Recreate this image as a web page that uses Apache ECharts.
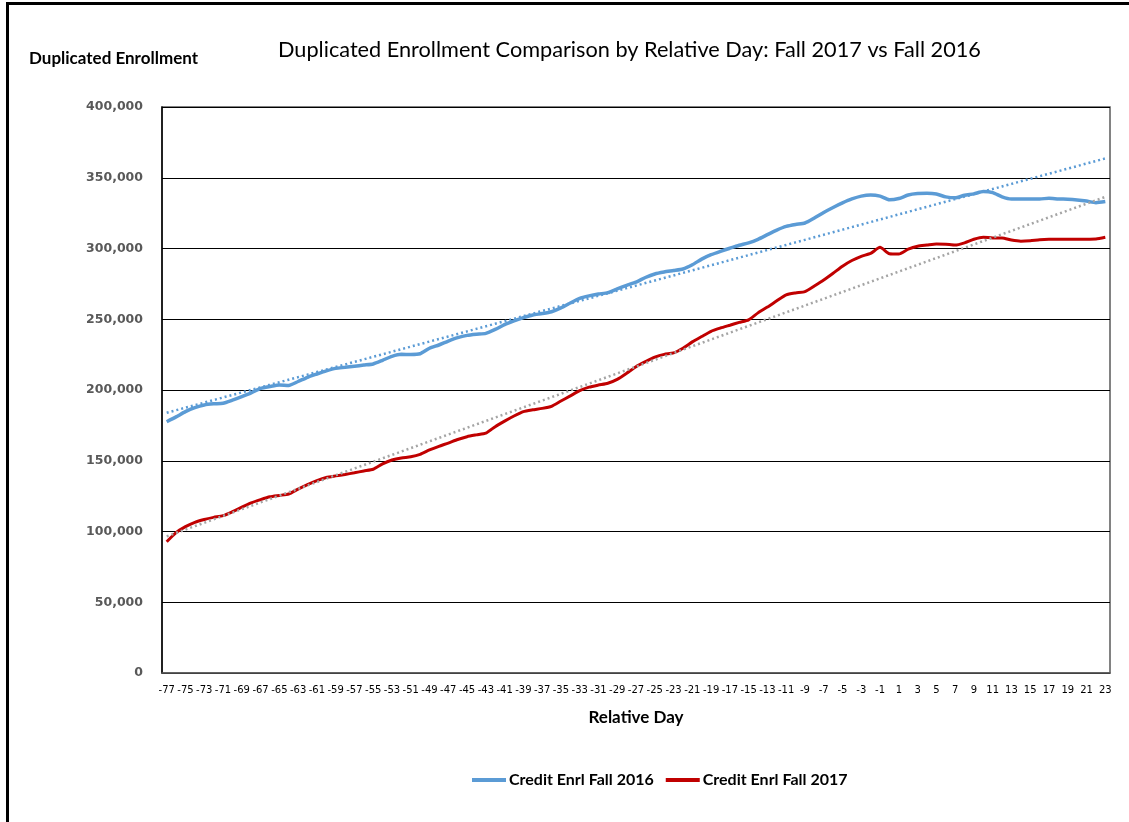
<!DOCTYPE html>
<html>
<head>
<meta charset="utf-8">
<script src="https://cdn.jsdelivr.net/npm/echarts@6/dist/echarts.min.js"></script>
<style>
html,body{margin:0;padding:0;background:#fff;}
#chart{width:1129px;height:822px;}
</style>
</head>
<body>
<div id="chart"></div>
<script>
// Relative days -77 .. 23 (labels shown every other day)
const days = [];
for (let d = -77; d <= 23; d++) days.push(String(d));

// Credit Enrl Fall 2016 (thousands)
const fall2016K = [
 177.6,181,184.7,187.5,189.4,190.2,190.6,192.8,195.3,198,
 201.2,202.5,203.5,203.2,206,209,211.3,213.5,215.3,216,
 216.8,217.6,218.4,221,223.8,225.2,225.1,225.6,229.5,231.8,
 234.6,237,238.6,239.4,240,242.8,246.2,248.8,251.1,253,
 254,255.3,258,261.5,264.8,266.5,267.8,268.8,271.5,274,
 276.2,279.5,282,283.4,284.4,285.5,288.5,292.5,295.6,298,
 300.2,302.3,304,306.5,309.8,313,315.6,317,318,321.5,
 325.5,329,332.2,335,337,337.8,337,334.4,335.3,337.8,
 338.8,339,338.5,336.5,335.8,337.6,338.6,340.2,339.5,336.5,
 335,335,335,335,335.5,335,334.8,334.3,333.5,332.4,
 333.2
];

// Credit Enrl Fall 2017 (thousands)
const fall2017K = [
 92.8,99.2,103.4,106.5,108.5,110,111.2,114,117.2,120.2,
 122.5,124.5,125.5,126.5,130,133.2,136,138.2,139.3,140.3,
 141.5,142.8,144,147.8,150.5,152,152.8,154.5,157.6,160.2,
 162.5,165,167,168.3,169.5,174.1,178,181.6,184.7,186,
 187,188.5,192.2,195.8,199.5,202,203.5,204.8,207.5,211.8,
 216.5,220,223.2,225.2,226.2,229.5,234,237.8,241.5,243.8,
 245.8,247.8,249.6,254.5,258.6,263,267.2,268.6,269.5,273.5,
 277.7,282.5,287.5,291.5,294.5,296.5,300.8,296.3,296.1,299.5,
 301.6,302.4,303.2,303,302.4,304,306.5,307.9,307.5,307.5,
 306,305.2,305.5,306.2,306.5,306.5,306.5,306.6,306.6,306.7,
 307.9
];

const fall2016 = fall2016K.map(v => Math.round(v * 1000));
const fall2017 = fall2017K.map(v => Math.round(v * 1000));

// Linear trendline (least squares over category position), as in the original chart
function linearTrend(vals) {
  const n = vals.length;
  let sx = 0, sy = 0, sxx = 0, sxy = 0;
  vals.forEach((y, i) => { const x = i + 1; sx += x; sy += y; sxx += x * x; sxy += x * y; });
  const b = (n * sxy - sx * sy) / (n * sxx - sx * sx);
  const a = (sy - b * sx) / n;
  return vals.map((_, i) => a + b * (i + 1));
}

const chart = echarts.init(document.getElementById('chart'), null, {renderer: 'canvas'});
const titleFont = 'Lato, "Liberation Sans", sans-serif';

chart.setOption({
  backgroundColor: '#ffffff',
  animation: false,
  title: {
    text: 'Duplicated Enrollment Comparison by Relative Day: Fall 2017 vs Fall 2016',
    left: 273, top: 34,
    textStyle: {fontFamily: titleFont, fontSize: 21.7, fontWeight: 'normal', color: '#000'}
  },
  graphic: [
    {type: 'rect', shape: {x: 6, y: 2, width: 1140, height: 3}, style: {fill: '#000'}, silent: true},
    {type: 'rect', shape: {x: 6, y: 2, width: 3, height: 830}, style: {fill: '#000'}, silent: true},
    {type: 'text', left: 29, top: 50, style: {text: 'Duplicated Enrollment', font: 'bold 17px ' + titleFont, fill: '#000'}}
  ],
  legend: {
    data: ['Credit Enrl Fall 2016', 'Credit Enrl Fall 2017'],
    bottom: 29, left: 467,
    icon: 'rect', itemWidth: 34, itemHeight: 4, itemGap: 12,
    textStyle: {fontFamily: titleFont, fontSize: 16, fontWeight: 'bold', color: '#000', padding: [0, 0, 0, -2]}
  },
  grid: {left: 162, right: 19, top: 107, bottom: 149, show: true, borderColor: '#595959', borderWidth: 1.5},
  xAxis: {
    type: 'category', data: days, boundaryGap: true,
    name: 'Relative Day', nameLocation: 'middle', nameGap: 36,
    nameTextStyle: {fontFamily: titleFont, fontSize: 17, fontWeight: 'bold', color: '#000'},
    axisLine: {lineStyle: {color: '#595959', width: 1.5}},
    axisTick: {show: false},
    axisLabel: {interval: 1, hideOverlap: false, margin: 12, fontFamily: '"DejaVu Sans", sans-serif', fontSize: 10, color: '#000'}
  },
  yAxis: {
    type: 'value', min: 0, max: 400000, interval: 50000,
    axisLine: {show: true, lineStyle: {color: '#000', width: 1.5}},
    axisTick: {show: false},
    splitLine: {lineStyle: {color: '#000', width: 1}},
    axisLabel: {
      margin: 19, fontFamily: '"DejaVu Sans", sans-serif', fontSize: 12.5, fontWeight: 'bold', color: '#595959',
      formatter: v => v.toLocaleString('en-US')
    }
  },
  series: [
    {name: 'Credit Enrl Fall 2016', type: 'line', data: fall2016, symbol: 'none', smooth: 0.2,
     lineStyle: {color: '#5B9BD5', width: 3.5}, itemStyle: {color: '#5B9BD5'}},
    {name: 'Credit Enrl Fall 2017', type: 'line', data: fall2017, symbol: 'none', smooth: 0.2,
     lineStyle: {color: '#C00000', width: 3}, itemStyle: {color: '#C00000'}},
    {name: 'Trend 2016', type: 'line', data: linearTrend(fall2016), symbol: 'none', silent: true,
     lineStyle: {color: '#5B9BD5', width: 2.5, type: [2, 3]}},
    {name: 'Trend 2017', type: 'line', data: linearTrend(fall2017), symbol: 'none', silent: true,
     lineStyle: {color: '#A5A5A5', width: 2.5, type: [2, 3]}}
  ]
});
</script>
</body>
</html>
